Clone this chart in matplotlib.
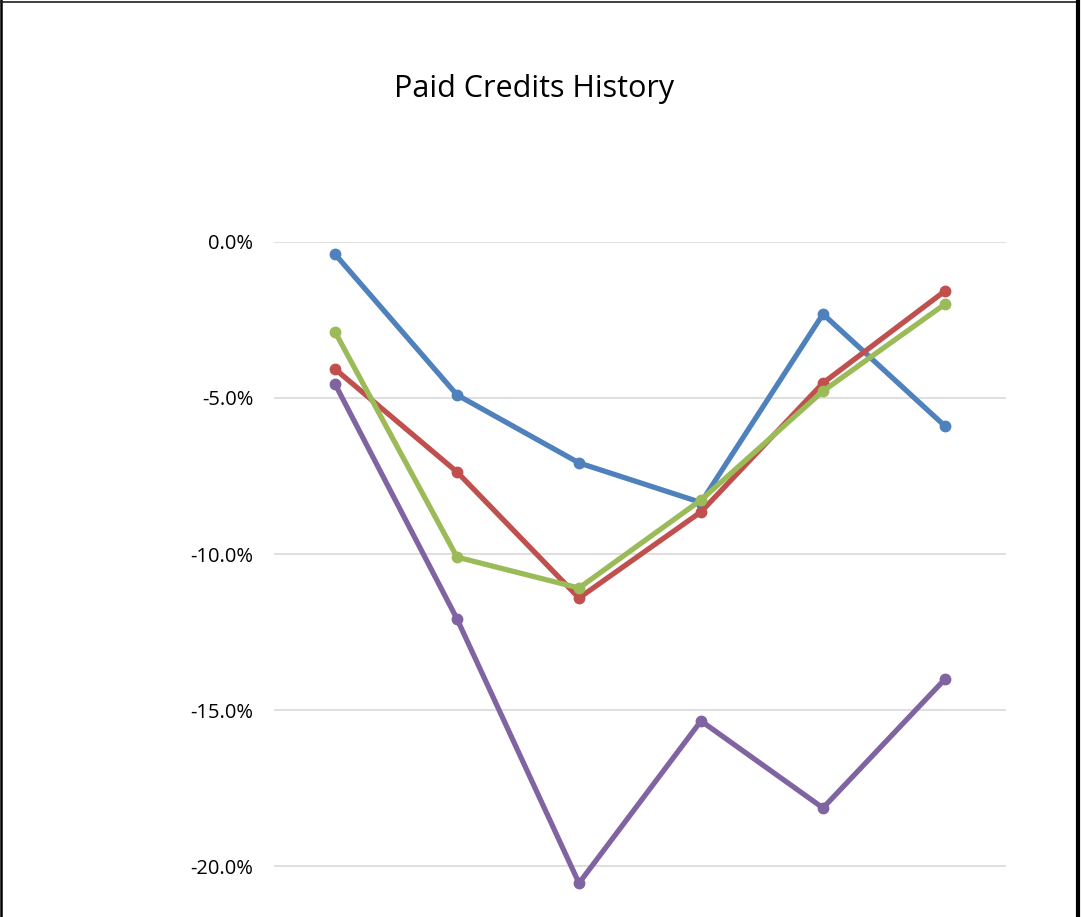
import matplotlib
matplotlib.use("Agg")
import matplotlib.pyplot as plt
from matplotlib.lines import Line2D
from matplotlib.ticker import FuncFormatter

plt.rcParams["font.family"] = ["Open Sans", "DejaVu Sans"]

# values, in percent
periods = [0, 1, 2, 3, 4, 5]
blue = [-0.39, -4.90, -7.08, -8.35, -2.31, -5.90]
red = [-4.07, -7.37, -11.41, -8.65, -4.52, -1.57]
green = [-2.88, -10.10, -11.09, -8.27, -4.78, -1.99]
purple = [-4.55, -12.08, -20.55, -15.35, -18.14, -14.01]
yticks = [0, -5, -10, -15, -20]

series = [(blue, "#4F81BD"), (red, "#C0504D"), (green, "#9BBB59"), (purple, "#8064A2")]

W, H = 1082, 917
fig = plt.figure(figsize=(W / 100, H / 100), dpi=100)
fig.patch.set_facecolor("white")

# plot area: 0% gridline at y=242 px, 156 px per 5%, runs past the bottom edge
top_px, bot_px = 242, 242 + 5 * 156
ax = fig.add_axes([274 / W, (H - bot_px) / H, 732 / W, (bot_px - top_px) / H])
ax.set_xlim(-0.5, 5.5)
ax.set_ylim(-25, 0)

for vals, col in series:
    ax.plot(periods, vals, color=col, lw=3.8, marker="o", ms=7.5,
            solid_capstyle="round", solid_joinstyle="round", zorder=3)

ax.set_yticks(yticks)
ax.yaxis.set_major_formatter(FuncFormatter(lambda v, _: f"{v:.1f}%"))
ax.set_xticks([])
ax.grid(axis="y", color="#D9D9D9", lw=1.2, zorder=0)
ax.tick_params(axis="y", length=0, pad=15, labelsize=14.5, labelcolor="#000000")
for s in ax.spines.values():
    s.set_visible(False)

fig.text(534 / W, 1 - 89 / H, "Paid Credits History", ha="center", va="center",
         fontsize=22, color="black")

# chart frame (cropped screenshot edges)
fig.add_artist(Line2D([1 / W, 1 / W], [0, 1], color="black", lw=1.8, transform=fig.transFigure))
fig.add_artist(Line2D([0, 1078 / W], [1 - 1.5 / H, 1 - 1.5 / H], color="#202020", lw=1.2,
                      transform=fig.transFigure))
fig.add_artist(Line2D([1078 / W, 1078 / W], [0, 1], color="black", lw=3.0, transform=fig.transFigure))

fig.savefig("out.png", dpi=100)
